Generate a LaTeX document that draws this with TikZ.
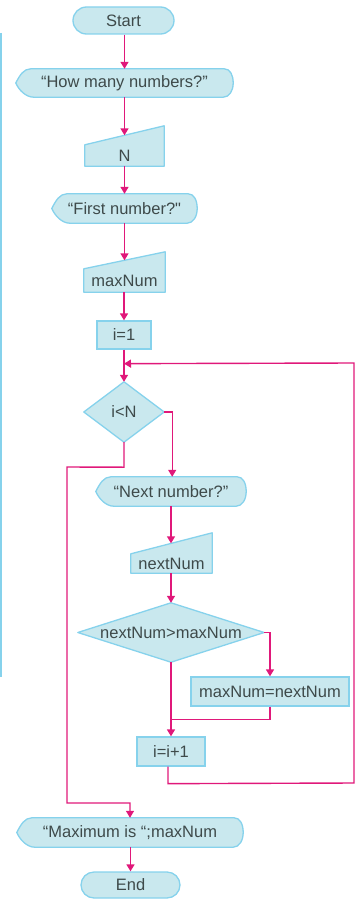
\documentclass[tikz,border=0pt]{standalone}
\usepackage{fontspec}
\setmainfont{Liberation Sans}
\newfontfamily\plainq{Liberation Sans}
\usetikzlibrary{shapes.misc,arrows.meta,calc,backgrounds}
\definecolor{boxfill}{HTML}{C9E8EE}
\definecolor{boxline}{HTML}{86D2EC}
\definecolor{flow}{HTML}{E0187A}
\definecolor{txt}{HTML}{3E4A4A}
\tikzset{
  txtstyle/.style={text=txt, font=\fontsize{16.5}{19}\selectfont, inner sep=0pt},
  terminal/.style={txtstyle, rounded rectangle, fill=boxfill, draw=boxline, line width=1.3pt},
  procbox/.style={txtstyle, rectangle, fill=boxfill, draw=boxline, line width=1.3pt},
  shapetext/.style={txtstyle, rectangle},
  outline/.style={fill=boxfill, draw=boxline, line width=1.3pt, line join=round},
  conn/.style={draw=flow, line width=1.4pt},
  arr/.style={conn, -{Triangle[length=7pt,width=8pt]}},
}
\begin{document}
\begin{tikzpicture}[x=1pt,y=-1pt]
\useasboundingbox (0,0) rectangle (355,899);
\draw[line width=2pt, boxline] (1,33) -- (1,677);

% nodes
\node[terminal, minimum width=101pt, minimum height=27pt] (start) at (123.5,20.5) {Start};
\node[shapetext, minimum width=217pt, minimum height=28pt] (q1) at (124.5,83) {“How many numbers?”};
\node[shapetext, minimum width=79pt, minimum height=21pt] (n) at (124.5,155.5) {N};
\node[shapetext, minimum width=145pt, minimum height=29pt] (q2) at (124.5,208.5) {“First number?{\plainq"}};
\node[shapetext, minimum width=81pt, minimum height=23pt] (mx) at (124.5,280.5) {maxNum};
\node[procbox, minimum width=54pt, minimum height=28pt] (i1) at (124,335) {i=1};
\node[shapetext, minimum width=80pt, minimum height=60pt] (d1) at (124,412) {i<N};
\node[shapetext, minimum width=150pt, minimum height=29pt] (q3) at (171,491.5) {“Next number?”};
\node[shapetext, minimum width=81pt, minimum height=19pt] (nx) at (171.5,563.5) {nextNum};
\node[shapetext, minimum width=186pt, minimum height=59pt] (d2) at (171,632.5) {nextNum>maxNum};
\node[procbox, minimum width=158pt, minimum height=29pt] (upd) at (270,691.5) {maxNum=nextNum};
\node[procbox, minimum width=68pt, minimum height=29pt] (inc) at (171,751.5) {i=i+1};
\node[shapetext, minimum width=226pt, minimum height=29pt] (out) at (130,832.5) {“Maximum is “;maxNum};
\node[terminal, minimum width=99pt, minimum height=26pt] (end) at (130.5,885) {End};

% outlines of custom shapes
\begin{scope}[on background layer]
  \foreach \q in {q1,q2,q3,out}{
    \draw[outline]
      ($(\q.north west)+(15,0)$) -- ($(\q.north east)+(-9,0)$)
      .. controls ($(\q.north east)+(-3,0)$) and ($(\q.east)+(0,-8)$) .. (\q.east)
      .. controls ($(\q.east)+(0,8)$) and ($(\q.south east)+(-4,0)$) .. ($(\q.south east)+(-10,0)$)
      -- ($(\q.south west)+(18,0)$)
      .. controls ($(\q.south west)+(10,0)$) and ($(\q.west)+(3,7)$) .. (\q.west)
      .. controls ($(\q.west)+(4,-8)$) and ($(\q.north west)+(8,0)$) .. ($(\q.north west)+(15,0)$) -- cycle;
  }
  \draw[outline] (n.south west) -- (n.north west) -- ($(n.north east)+(0,-19)$) -- (n.south east) -- cycle;
  \draw[outline] (mx.south west) -- (mx.north west) -- ($(mx.north east)+(0,-17)$) -- (mx.south east) -- cycle;
  \draw[outline] (nx.south west) -- (nx.north west) -- ($(nx.north east)+(0,-21)$) -- (nx.south east) -- cycle;
  \draw[outline] (d1.north) -- (d1.east) -- (d1.south) -- (d1.west) -- cycle;
  \draw[outline] (d2.north) -- (d2.east) -- (d2.south) -- (d2.west) -- cycle;
\end{scope}

% connectors
\coordinate (join) at ($(i1.south)+(0,14)$);
\draw[arr] (start.south -| q1.north) -- (q1.north);
\draw[arr] (q1.south) -- ($(q1.south |- n.north)+(0,-9.5)$);
\draw[arr] (n.south) -- (n.south |- q2.north);
\draw[arr] (q2.south) -- ($(q2.south |- mx.north)+(0,-8.5)$);
\draw[arr] (mx.south) -- (mx.south -| i1.north) -- (i1.north);
\draw[arr] (i1.south) -- (d1.north);
\draw[arr] (d1.east) -- ++(8,0) coordinate (c1) -- (c1 |- q3.north);
\draw[arr] (q3.south) -- ($(q3.south |- nx.north)+(0,-10.5)$);
\draw[arr] (nx.south) -- (nx.south -| d2.north) -- (d2.north);
\draw[arr] (d2.east) -- (d2.east -| upd.north) -- (upd.north);
\draw[conn] (upd.south) -- ++(0,13) coordinate (c2) -- (c2 -| inc.north);
\draw[arr] (d2.south) -- (inc.north);
\draw[arr] ($(inc.south)+(-3,0)$) -- ++(0,17) coordinate (c3) -- (354,783) coordinate (c4) -- (354,363) coordinate (c5) -- (join);
\draw[arr] (d1.south) -- ++(0,25) coordinate (c6) -- (67,467) coordinate (c7) -- (67,803) coordinate (c8) -- (c8 -| out.north) -- (out.north);
\draw[arr] (out.south) -- (out.south -| end.north) -- (end.north);
\end{tikzpicture}
\end{document}
